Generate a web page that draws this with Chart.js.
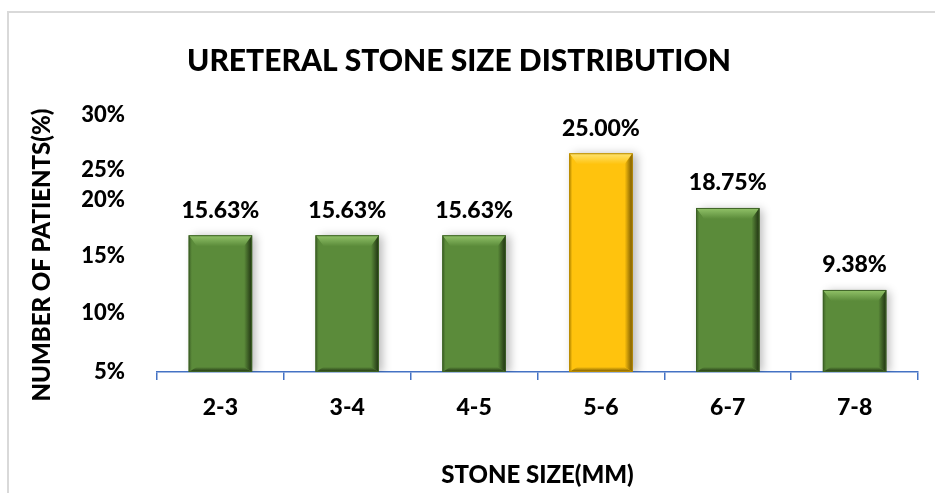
<!DOCTYPE html>
<html>
<head>
<meta charset="utf-8">
<script src="https://cdn.jsdelivr.net/npm/chart.js@4.4.1/dist/chart.umd.min.js"></script>
<style>
  body { margin: 0; background: #fff; overflow: hidden; }
  #frame {
    position: absolute; left: 7px; top: 11px;
    width: 1000px; height: 600px;
    border: 2px solid #d9d9d9;
  }
  #stoneChart { position: absolute; left: 0; top: 0; }
</style>
</head>
<body>
<div id="frame"></div>
<canvas id="stoneChart" width="935" height="493"></canvas>
<script>
// Chart data
const stoneSizes = ['2-3', '3-4', '4-5', '5-6', '6-7', '7-8'];
const patientPercent = [15.63, 15.63, 15.63, 25.00, 18.75, 9.38];
const highlightIndex = 3;

// y axis labels as printed in the source figure (the spacing there is uneven)
const yTickValues = [0, 6.8, 13.3, 19.7, 23.1, 29.4];
const yTickLabels = ['5%', '10%', '15%', '20%', '25%', '30%'];

const FONT = 'Lato, Carlito, Calibri, "Liberation Sans", sans-serif';
const WEIGHT = '900';

const palette = {
  green: { main: '#5b8b3a', light: '#93c46a', dark: '#1d2f10', edge: '#3d6126' },
  gold:  { main: '#ffc30d', light: '#ffe472', dark: '#6e5200', edge: '#b88a00' }
};
const colorFor = i => (i === highlightIndex ? palette.gold : palette.green);

// soft drop shadow behind the bars
const barShadow = {
  id: 'barShadow',
  beforeDatasetsDraw(chart) {
    const ctx = chart.ctx;
    ctx.save();
    ctx.shadowColor = 'rgba(0,0,0,0.28)';
    ctx.shadowBlur = 9;
    ctx.shadowOffsetX = 4;
    ctx.shadowOffsetY = 1;
  },
  afterDatasetsDraw(chart) {
    chart.ctx.restore();
  }
};

// bevelled look + value labels on top
const bevelAndLabels = {
  id: 'bevelAndLabels',
  afterDatasetsDraw(chart) {
    const ctx = chart.ctx;
    const meta = chart.getDatasetMeta(0);
    meta.data.forEach((bar, i) => {
      const { x, y, base, width } = bar.getProps(['x', 'y', 'base', 'width'], true);
      const L = x - width / 2, R = x + width / 2, T = y, B = base;
      const c = colorFor(i);
      const t = 11, s = 8, b = 5;
      ctx.save();

      // top face
      let g = ctx.createLinearGradient(0, T, 0, T + t);
      g.addColorStop(0, c.light);
      g.addColorStop(1, c.main);
      ctx.fillStyle = g;
      ctx.beginPath();
      ctx.moveTo(L, T); ctx.lineTo(R, T); ctx.lineTo(R - s, T + t); ctx.lineTo(L + s, T + t);
      ctx.closePath(); ctx.fill();

      // right side
      g = ctx.createLinearGradient(R - s, 0, R, 0);
      g.addColorStop(0, c.main);
      g.addColorStop(1, c.dark);
      ctx.fillStyle = g;
      ctx.beginPath();
      ctx.moveTo(R, T); ctx.lineTo(R, B); ctx.lineTo(R - s, B - b); ctx.lineTo(R - s, T + t);
      ctx.closePath(); ctx.fill();

      // left side
      g = ctx.createLinearGradient(L, 0, L + s, 0);
      g.addColorStop(0, c.edge);
      g.addColorStop(0.4, c.main);
      g.addColorStop(1, c.main);
      ctx.fillStyle = g;
      ctx.beginPath();
      ctx.moveTo(L, T); ctx.lineTo(L + s, T + t); ctx.lineTo(L + s, B - b); ctx.lineTo(L, B);
      ctx.closePath(); ctx.fill();

      // bottom
      g = ctx.createLinearGradient(0, B - b, 0, B);
      g.addColorStop(0, c.main);
      g.addColorStop(1, c.dark);
      ctx.fillStyle = g;
      ctx.beginPath();
      ctx.moveTo(L, B); ctx.lineTo(L + s, B - b); ctx.lineTo(R - s, B - b); ctx.lineTo(R, B);
      ctx.closePath(); ctx.fill();

      ctx.strokeStyle = c.edge;
      ctx.lineWidth = 1;
      ctx.strokeRect(L + 0.5, T + 0.5, width - 1, B - T - 1);

      // value label
      ctx.fillStyle = '#000';
      ctx.font = WEIGHT + ' 23px ' + FONT;
      ctx.textAlign = 'center';
      ctx.textBaseline = 'middle';
      ctx.fillText(patientPercent[i].toFixed(2) + '%', x, T - 25);
      ctx.restore();
    });
  }
};

const ctx = document.getElementById('stoneChart').getContext('2d');
new Chart(ctx, {
  type: 'bar',
  data: {
    labels: stoneSizes,
    datasets: [{
      data: patientPercent,
      backgroundColor: patientPercent.map((v, i) => colorFor(i).main),
      borderWidth: 0,
      barPercentage: 0.5,
      categoryPercentage: 1.0
    }]
  },
  options: {
    responsive: false,
    animation: false,
    layout: { padding: { left: 0, right: 17, top: 0, bottom: 0 } },
    plugins: {
      legend: { display: false },
      tooltip: { enabled: false },
      title: {
        display: true,
        text: 'URETERAL STONE SIZE DISTRIBUTION',
        color: '#000',
        font: { family: FONT, size: 30, weight: WEIGHT },
        padding: { top: 43, bottom: 30.5 }
      }
    },
    scales: {
      x: {
        grid: {
          display: true,
          drawOnChartArea: false,
          drawTicks: true,
          tickLength: 8,
          color: '#4472c4',
          lineWidth: 1.5
        },
        border: { display: true, color: '#4472c4', width: 1.5 },
        ticks: {
          color: '#000',
          padding: 14,
          font: { family: FONT, size: 23, weight: WEIGHT }
        },
        title: {
          display: true,
          text: 'STONE SIZE(MM)',
          color: '#000',
          font: { family: FONT, size: 24, weight: WEIGHT },
          padding: { top: 0, bottom: 3 }
        },
        afterFit(scale) { scale.height = 121; }
      },
      y: {
        min: 0,
        max: 30,
        grid: { display: false },
        border: { display: false },
        afterBuildTicks(scale) {
          scale.ticks = yTickValues.map(v => ({ value: v }));
        },
        ticks: {
          color: '#000',
          padding: 24,
          font: { family: FONT, size: 22, weight: WEIGHT },
          callback: (value, index) => yTickLabels[index]
        },
        title: {
          display: true,
          text: 'NUMBER OF PATIENTS(%)     ',
          color: '#000',
          font: { family: FONT, size: 24, weight: WEIGHT },
          padding: { top: 28, bottom: 0 }
        },
        afterFit(scale) { scale.width = 157; }
      }
    }
  },
  plugins: [barShadow, bevelAndLabels]
});
</script>
</body>
</html>
